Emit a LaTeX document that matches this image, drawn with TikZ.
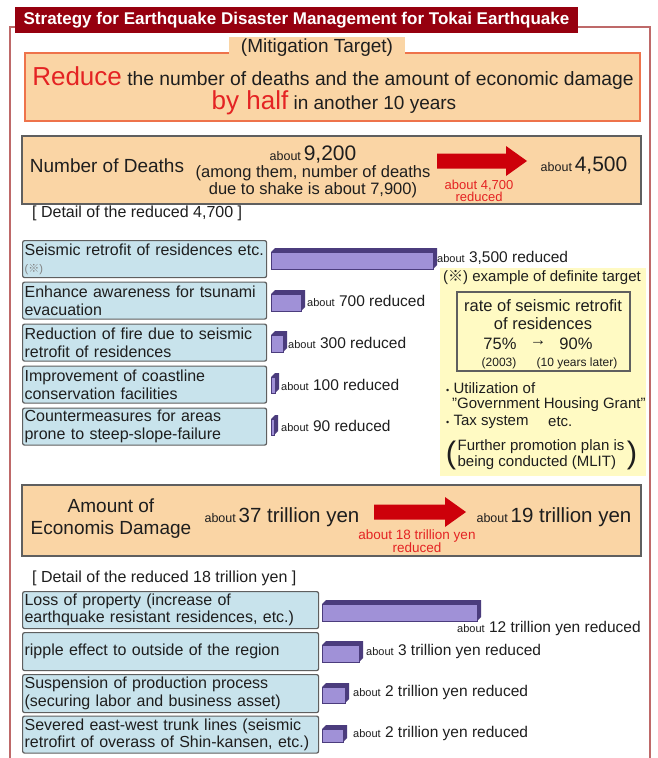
\documentclass[tikz,border=0pt]{standalone}
\usepackage{fontspec}
\setmainfont{Liberation Sans}
\newfontfamily\cjkfont{Noto Sans CJK JP}
\definecolor{titlered}{RGB}{150,0,15}
\definecolor{framered}{RGB}{190,105,105}
\definecolor{peach}{RGB}{250,213,165}
\definecolor{mitborder}{RGB}{238,115,75}
\definecolor{boxgray}{RGB}{95,95,95}
\definecolor{lightblue}{RGB}{200,227,236}
\definecolor{paleyellow}{RGB}{255,250,195}
\definecolor{barfront}{RGB}{160,145,215}
\definecolor{bardark}{RGB}{75,60,125}
\definecolor{redtext}{RGB}{228,35,35}
\definecolor{arrowred}{RGB}{205,0,10}
\definecolor{txt}{RGB}{30,30,30}
\newcommand\fsz[1]{\fontsize{#1}{#1}\selectfont}
\newcommand\fsl[2]{\fontsize{#1}{#2}\selectfont}
\newcommand\kome{{\cjkfont ※}}
\newcommand\abt{{\fsz{11}about}}
\newcommand\abtb{{\fsz{12.5}about}}
\newcommand\drawbar[4]{%
  \fill[bardark] (#1,#2) -- (#1+4,#2-4) -- (#3+4,#2-4) -- (#3+4,#4-4) -- (#3,#4) -- (#3,#2) -- cycle;
  \filldraw[fill=barfront, draw=bardark, line width=0.8pt] (#1,#2) rectangle (#3,#4);
}
% block arrow: start x, end x, centre y
\newcommand\blockarrow[3]{%
  \fill[arrowred] (#1,#3-7.5) -- (#2-21,#3-7.5) -- (#2-21,#3-15) -- (#2,#3) -- (#2-21,#3+15) -- (#2-21,#3+7.5) -- (#1,#3+7.5) -- cycle;
}
\tikzset{
  txtnode/.style={inner sep=0pt, text=txt},
  bluebox/.style={draw=boxgray, line width=1.2pt, fill=lightblue, rounded corners=2pt, inner sep=2pt, align=left, text=txt, font=\fsl{16}{17.5}, anchor=north west},
  barlabel/.style={anchor=west, inner sep=0pt, text=txt, font=\fsz{15.5}},
  peachbox/.style={draw=boxgray, line width=1.5pt, fill=peach},
}
\begin{document}
\begin{tikzpicture}[x=1pt,y=-1pt]
\useasboundingbox (0,0) rectangle (657,758);
\fill[white] (0,0) rectangle (657,758);
% outer frame
\draw[framered, line width=1.8pt] (15,27) -- (10,27) -- (10,758);
\draw[framered, line width=1.8pt] (578,27) -- (650,27) -- (650,758);
% title
\node[fill=titlered, text=white, font=\bfseries\fsz{17}, minimum width=563pt, minimum height=26pt, inner sep=0pt] (title) at (296.5,20) {Strategy for Earthquake Disaster Management for Tokai Earthquake};
% mitigation target
\draw[fill=peach, draw=mitborder, line width=2pt] (25,53) rectangle (640,121);
\node[fill=peach, inner sep=2pt, text=txt, font=\fsz{19}, minimum width=176pt, minimum height=22pt] (mitlabel) at (317,48) {(Mitigation Target)};
\node[txtnode, font=\fsz{19.3}] (mit1) at (333,78) {{\color{redtext}\fsz{26}Reduce} the number of deaths and the amount of economic damage};
\node[txtnode, font=\fsz{19}] (mit2) at (334,103) {{\color{redtext}\fsz{26}by half} in another 10 years};
% deaths box
\draw[peachbox] (22,136) rectangle (641,204);
\node[txtnode, font=\fsz{19}] (nd) at (107,166) {Number of Deaths};
\node[txtnode] (d9200) at (313,155) {\abtb\ {\fsz{21}9,200}};
\node[txtnode, align=center, font=\fsl{16.5}{17}] (among) at (313,182) {(among them, number of deaths\\due to shake is about 7,900)};
\blockarrow{437}{527}{161}
\node[txtnode, align=center, text=redtext, font=\fsl{13}{12}] (red1) at (479,191) {about 4,700\\reduced};
\node[txtnode] (d4500) at (584,166) {\abtb\ {\fsz{21}4,500}};
\node[txtnode, anchor=west, font=\fsz{16}] (det1) at (32,213) {[ Detail of the reduced 4,700 ]};
% yellow example box
\fill[paleyellow] (440,268) rectangle (646,476);
\node[txtnode, font=\fsz{15}] (ex) at (542,278) {(\kome) example of definite target};
\draw[boxgray, line width=1.2pt] (457,292) rectangle (630,371);
\node[txtnode, font=\fsz{16.5}] (r1) at (543,306) {rate of seismic retrofit};
\node[txtnode, font=\fsz{16.5}] (r2) at (543,324) {of residences};
\node[txtnode, font=\fsz{16.5}] (p75) at (500,344) {75\%};
\node[txtnode, font=\fsz{16.5}] (rarr) at (538,343) {→};
\node[txtnode, font=\fsz{16.5}] (p90) at (576,344) {90\%};
\node[txtnode, font=\fsz{12}] (y03) at (499,363) {(2003)};
\node[txtnode, font=\fsz{12}] (y10) at (577,363) {(10 years later)};
\node[txtnode, anchor=west, font=\fsz{15}] (u1) at (446,388) {{\fsz{9}•}\ Utilization of};
\node[txtnode, anchor=west, font=\fsz{15}] (u2) at (452,405) {"Government Housing Grant"};
\node[txtnode, anchor=west, font=\fsz{15}] (u3) at (446,422) {{\fsz{9}•}\ Tax system};
\node[txtnode, anchor=west, font=\fsz{15}] (u4) at (548,422) {etc.};
\node[txtnode, font=\fsz{31}] (lp) at (451,455) {(};
\node[txtnode, font=\fsz{31}] (rp) at (632,455) {)};
\node[txtnode, align=left, font=\fsl{15}{16}] (fur) at (541,455) {Further promotion plan is\\being conducted (MLIT)};
% death detail boxes
\node[bluebox, text width=240pt, minimum height=37pt] (b1) at (22,240) {Seismic retrofit of residences etc.\\{\fsz{11}\color{gray}(\kome)}};
\node[bluebox, text width=240pt, minimum height=37pt] (b2) at (22,281.5) {Enhance awareness for tsunami\\evacuation};
\node[bluebox, text width=240pt, minimum height=37pt] (b3) at (22,323.5) {Reduction of fire due to seismic\\retrofit of residences};
\node[bluebox, text width=240pt, minimum height=37pt] (b4) at (22,365.5) {Improvement of coastline\\conservation facilities};
\node[bluebox, text width=240pt, minimum height=37pt] (b5) at (22,407.5) {Countermeasures for areas\\prone to steep-slope-failure};
% death bars
\drawbar{271}{252}{433}{269}
\drawbar{271}{294}{301}{311}
\drawbar{271}{335}{283}{352}
\drawbar{271}{377}{275}{393}
\drawbar{271}{419}{274}{435}
\node[barlabel] (l1) at (437,258) {\abt\ 3,500 reduced};
\node[barlabel] (l2) at (307,301) {\abt\ 700 reduced};
\node[barlabel] (l3) at (288,343) {\abt\ 300 reduced};
\node[barlabel] (l4) at (281,385) {\abt\ 100 reduced};
\node[barlabel] (l5) at (281,426) {\abt\ 90 reduced};
% economic box
\draw[peachbox] (22,485) rectangle (641,556);
\node[txtnode, align=center, font=\fsl{19}{22}] (ed) at (111,519) {Amount of\\Economis Damage};
\node[txtnode] (e37) at (282,517) {\abtb\ {\fsz{20.5}37 trillion yen}};
\blockarrow{374}{466}{512}
\node[txtnode, align=center, text=redtext, font=\fsl{13.5}{12}] (red2) at (417,541) {about 18 trillion yen\\reduced};
\node[txtnode] (e19) at (554,517) {\abtb\ {\fsz{20.5}19 trillion yen}};
\node[txtnode, anchor=west, font=\fsz{16}] (det2) at (32,578) {[ Detail of the reduced 18 trillion yen ]};
% economic detail boxes
\node[bluebox, text width=292pt, minimum height=37pt] (c1) at (22,591) {Loss of property (increase of\\earthquake resistant residences, etc.)};
\node[bluebox, text width=292pt, minimum height=38pt] (c2) at (22,632) {ripple effect to outside of the region};
\node[bluebox, text width=292pt, minimum height=38pt] (c3) at (22,674) {Suspension of production process\\(securing labor and business asset)};
\node[bluebox, text width=292pt, minimum height=37pt] (c4) at (22,715.5) {Severed east-west trunk lines (seismic\\retrofirt of overass of Shin-kansen, etc.)};
% economic bars
\drawbar{322}{604}{477}{621}
\drawbar{322}{645}{359}{662}
\drawbar{322}{687}{345}{703}
\drawbar{322}{729}{343}{742}
\node[barlabel] (k1) at (457,628) {\abt\ 12 trillion yen reduced};
\node[barlabel] (k2) at (366,651) {\abt\ 3 trillion yen reduced};
\node[barlabel] (k3) at (353,692) {\abt\ 2 trillion yen reduced};
\node[barlabel] (k4) at (353,733) {\abt\ 2 trillion yen reduced};
\end{tikzpicture}
\end{document}
